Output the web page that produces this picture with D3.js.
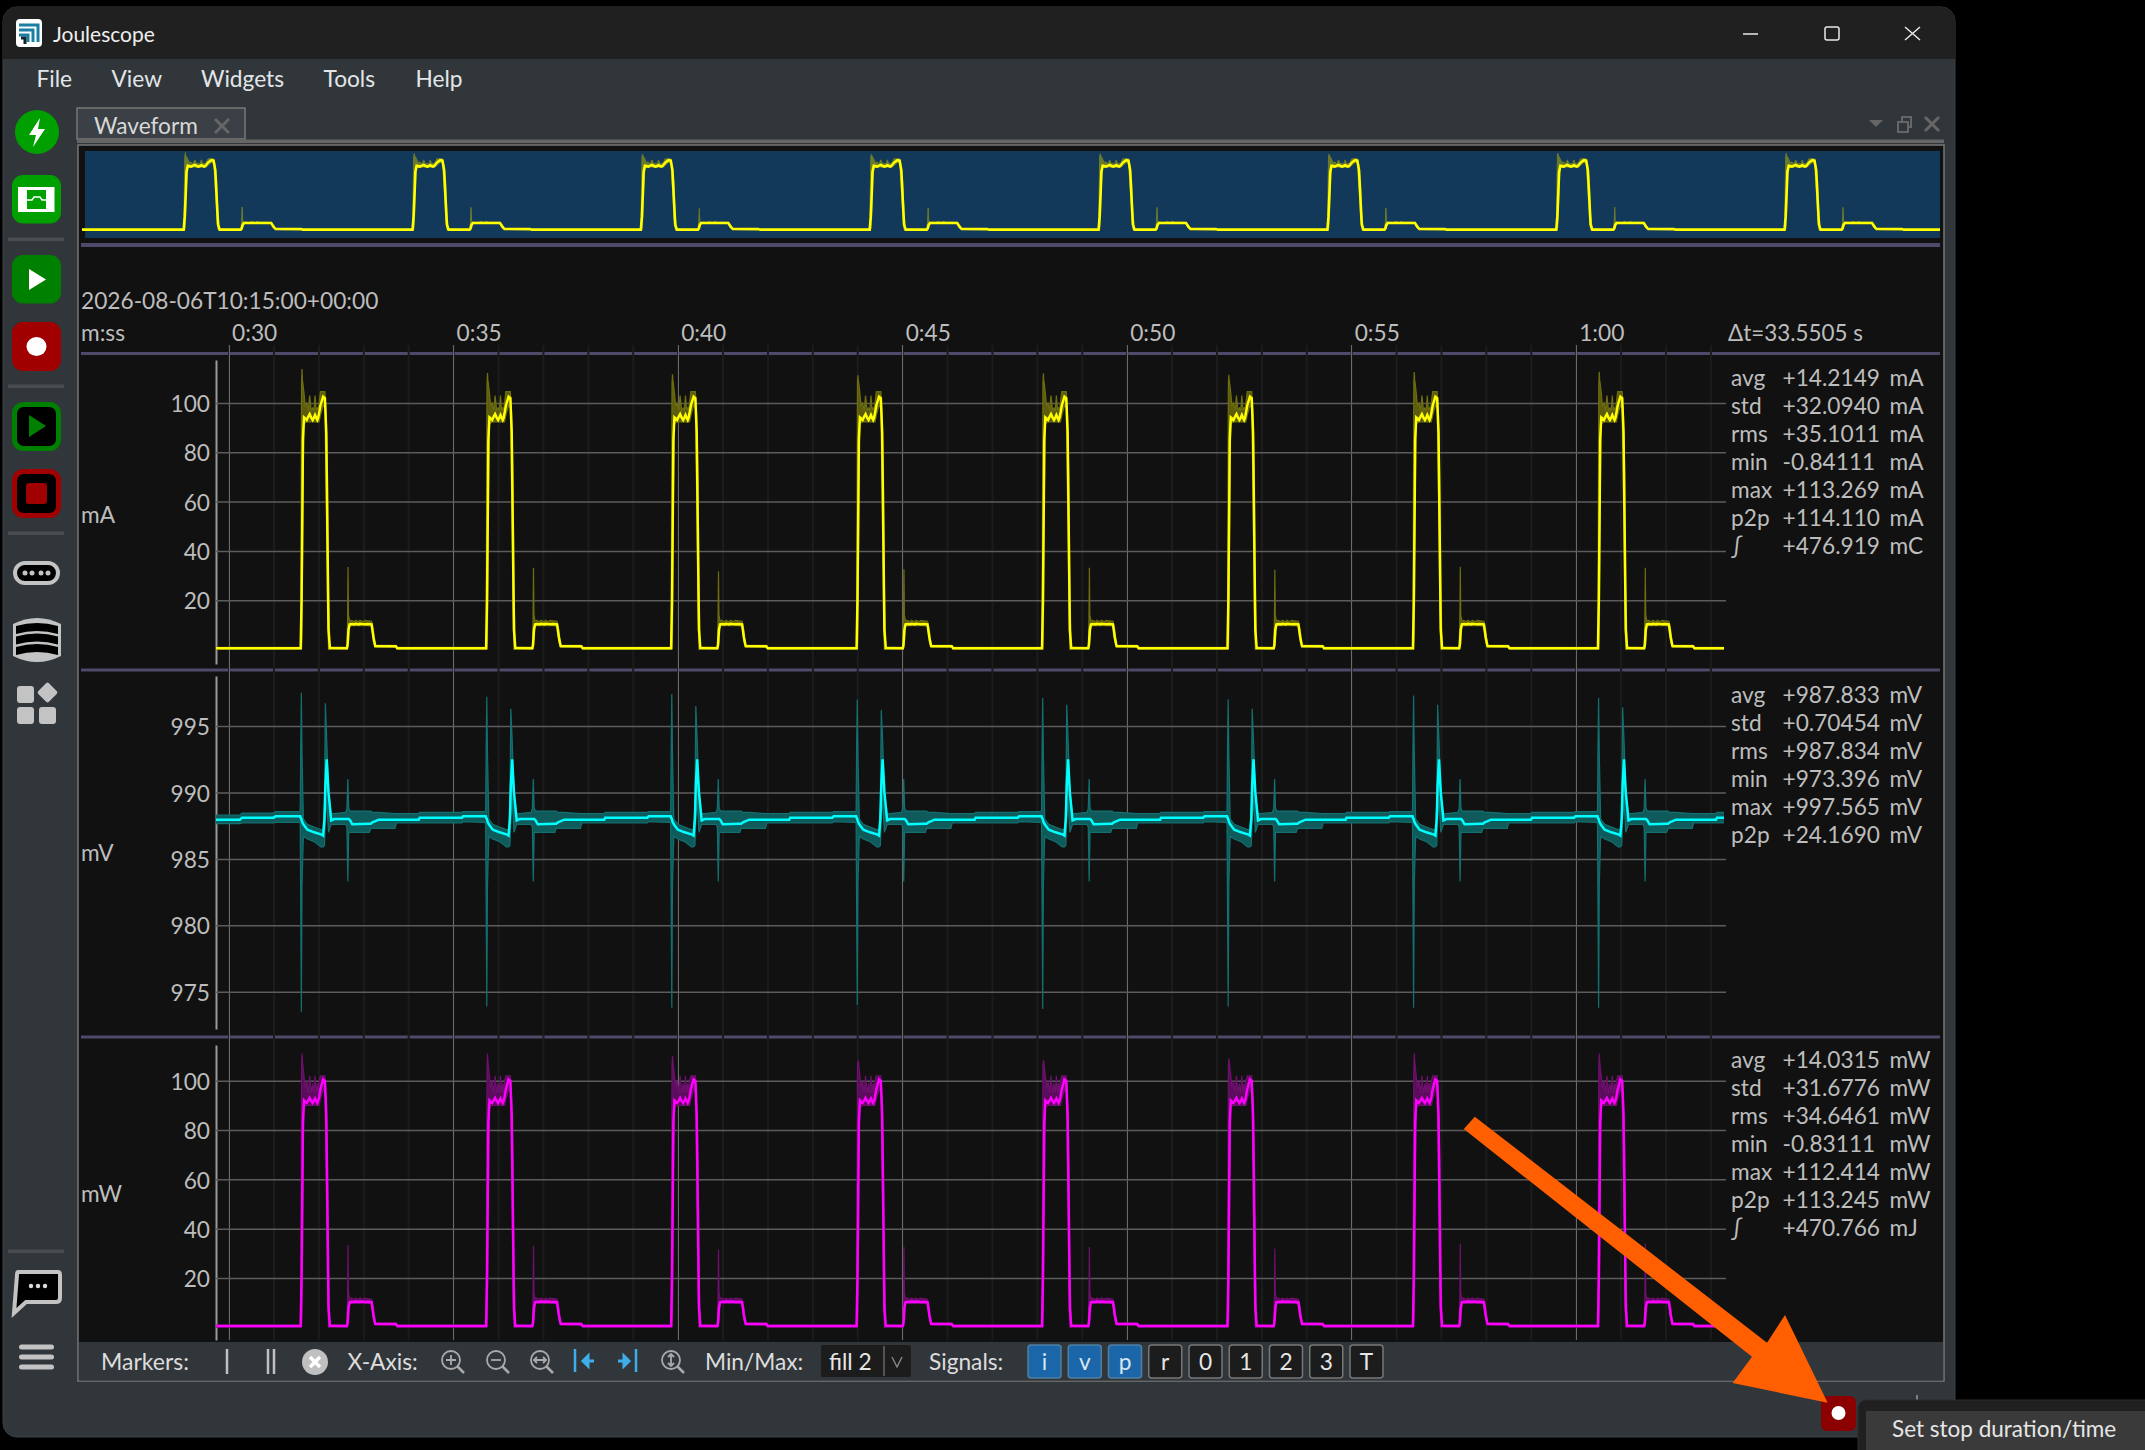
<!DOCTYPE html>
<html><head><meta charset="utf-8">
<script src="https://cdn.jsdelivr.net/npm/d3@7/dist/d3.min.js"></script>
<style>
html,body{margin:0;padding:0;background:#000;}
svg{display:block;}
text{font-family:Lato,"Open Sans",sans-serif;}
</style></head><body>
<svg id="c" width="2145" height="1450" xmlns="http://www.w3.org/2000/svg"></svg>
<script>
// ---- Data ----
const timeTicks=[30,35,40,45,50,55,60];
const timeLabels=["0:30","0:35","0:40","0:45","0:50","0:55","1:00"];
const minorTicks=[30,31,32,33,34,35,36,37,38,39,40,41,42,43,44,45,46,47,48,49,50,51,52,53,54,55,56,57,58,59,60,61,62,63];
const cycleStarts=[31.605,35.735,39.855,43.985,48.115,52.245,56.375,60.495];
const mATicks=[20,40,60,80,100];
const mVTicks=[975,980,985,990,995];
const mWTicks=[20,40,60,80,100];

// current, one period as offset seconds from the rising edge
const iT  =[0,0.02,0.03,0.04,0.05,0.074,0.10,0.134,0.17,0.20,0.235,0.267,0.295,0.32,0.345,0.37,0.39,0.41,0.44,0.50,0.54,0.57,0.60,0.62,0.65,1.03,1.045,1.055,1.065,1.09,1.13,1.20,1.22,1.30,1.32,1.40,1.42,1.50,1.58,1.62,1.66,2.12,2.15,4.12];
const iAvg=[0.5,20,40,60,85,94.2,93.8,93.1,94.5,95.5,94,93.1,94,95.1,94,93.1,94,95.8,99,102.6,102,88,40,8,0.6,0.5,2,5,8,10.2,10.3,10.2,10.4,10.2,10.4,10.3,10.2,10.3,10.2,5,1.4,1.3,0.5,0.5];
const iMin=[0.1,0.2,5,30,60,91.5,92,92.3,92.3,92.3,92.3,92.3,92.3,92.3,92.3,92.3,92.3,92.3,95,99,98,60,15,0,0.1,0.1,0.5,1,3,9.6,9.7,9.7,9.8,9.7,9.8,9.7,9.7,9.7,9.5,3,0.9,0.9,0.1,0.1];
const iMax=[0.9,108,113.8,109,108,104,99,100,97,103,97,98,97,103,97,98,97,100,104.6,104.6,104.6,95,70,25,1.1,0.9,12,33,14,11.6,11.8,11.2,11.9,11.2,11.9,11.2,11.8,11.6,11.4,8,1.8,1.7,0.9,0.9];
const iBigSpike=[113.8,112.2,111.6,111.2,112.0,111.4,112.6,112.7];
const iSmallSpike=[33.5,33.2,31.6,32.6,33.2,32.4,33.6,33.2];

// voltage, one period
const vT  =[-0.05,-0.01,0,0.015,0.03,0.06,0.15,0.30,0.45,0.50,0.53,0.55,0.58,0.62,0.68,0.75,1.00,1.03,1.05,1.07,1.10,1.15,1.53,1.56,1.60,1.74,2.10,2.13,2.63,2.65,3.59,3.62,4.07];
const vAvg=[988.2,988.2,988.1,988.0,987.8,987.6,987.2,987.0,986.85,986.75,988.0,990.5,992.5,990,987.9,988.0,988.0,988.0,988.0,988.0,987.9,987.6,987.65,987.65,987.75,987.95,987.95,987.95,987.95,988.1,988.1,988.2,988.2];
const vMin=[987.75,987.7,982,973.6,983,986.7,986.5,986.3,985.9,985.9,986,988,989.5,987,987.6,987.6,987.6,987.4,983.3,987,987,987,987.0,987.3,987.3,987.3,987.3,987.7,987.7,987.7,987.7,987.8,987.75];
const vMax=[988.55,988.6,993,997.4,993,988.0,987.6,987.4,987.2,987.2,989,996.7,994,990,988.4,988.4,988.5,988.8,991,988.8,988.6,988.6,988.6,988.6,988.5,988.5,988.4,988.4,988.4,988.5,988.5,988.55,988.55];
const vTopSpike=[997.5,997.2,997.4,997.0,997.1,997.0,997.3,997.1];
const vLowSpike=[973.5,973.9,973.8,974.0,973.7,973.9,973.8,973.8];
const vBackSpike=[996.7,996.3,996.5,996.2,996.6,996.3,996.6,996.4];
const vLeadT=[29.72,30.25,30.3,31.0,31.05];
const vLeadAvg=[987.95,987.95,988.1,988.1,988.2];
const vLeadMin=[987.65,987.65,987.7,987.7,987.75];
const vLeadMax=[988.3,988.3,988.45,988.45,988.55];

// power, one period
const pT  =[0,0.02,0.03,0.04,0.05,0.074,0.10,0.134,0.17,0.20,0.235,0.267,0.295,0.32,0.345,0.37,0.39,0.41,0.44,0.50,0.54,0.57,0.60,0.62,0.65,1.03,1.045,1.055,1.065,1.09,1.13,1.20,1.22,1.30,1.32,1.40,1.42,1.50,1.58,1.62,1.66,2.12,2.15,4.12];
const pAvg=[0.5,20,40,60,83,92,91.5,91,92,93,91.8,91,91.8,92.8,91.8,91,91.8,93.4,96.5,100.6,100,86,40,8,0.6,0.5,2,5,8,10.2,10.4,10.3,10.5,10.3,10.5,10.4,10.3,10.4,10.2,5,1.4,1.3,0.5,0.5];
const pMin=[0.1,0.2,5,30,60,89,89.8,90,90,90,90,90,90,90,90,90,90,90,92.5,96.5,95.5,60,15,0,0.1,0.1,0.5,1,3,9.6,9.7,9.7,9.8,9.7,9.8,9.7,9.7,9.7,9.5,3,0.9,0.9,0.1,0.1];
const pMax=[0.9,106,110,108,106,102,97,100,95,102,95,99,95,102,95,99,95,100,102,102,102,93,68,25,1.1,0.9,12,33,14,11.6,11.8,11.3,11.9,11.3,11.9,11.3,11.8,11.6,11.4,8,1.8,1.7,0.9,0.9];
const pBigSpike=[111,111,110,108,108,109,111,111];
const pSmallSpike=[33.4,33.0,31.6,32.6,32.6,32.0,34.0,34.0];

// statistic tables
const statNames=["avg","std","rms","min","max","p2p","\u222B"];
const statMA=["+14.2149","+32.0940","+35.1011","-0.84111","+113.269","+114.110","+476.919"];
const unitMA=["mA","mA","mA","mA","mA","mA","mC"];
const statMV=["+987.833","+0.70454","+987.834","+973.396","+997.565","+24.1690"];
const unitMV=["mV","mV","mV","mV","mV","mV"];
const statMW=["+14.0315","+31.6776","+34.6461","-0.83111","+112.414","+113.245","+470.766"];
const unitMW=["mW","mW","mW","mW","mW","mW","mJ"];
const menuItems=["File","View","Widgets","Tools","Help"];
const signalButtons=["i","v","p","r","0","1","2","3","T"];
const activeSignals=["i","v","p"];

// ---- helpers ----
const svg=d3.select("#c");
const UI="#31363b", PANEL="#111111", SEP="#4d4a6c", TXT="#bdbdbd", FS=22.7;
function expand(T,A,Mi,Ma,over,lead){
  const pts=[];
  if(lead) lead.forEach(p=>pts.push(p));
  cycleStarts.forEach((s,c)=>{
    T.forEach((o,i)=>{
      const p={t:s+o,avg:A[i],min:Mi[i],max:Ma[i]};
      over.forEach(r=>{ if(r.arr===Ma&&r.i===i)p.max=r.v[c]; if(r.arr===Mi&&r.i===i)p.min=r.v[c]; });
      pts.push(p);
    });
  });
  return pts;
}
const leadI=[{t:29.72,avg:0.5,min:0.1,max:0.9}];
const iData=expand(iT,iAvg,iMin,iMax,[{arr:iMax,i:iT.indexOf(0.03),v:iBigSpike},{arr:iMax,i:iT.indexOf(1.055),v:iSmallSpike}],leadI);
const pData=expand(pT,pAvg,pMin,pMax,[{arr:pMax,i:pT.indexOf(0.03),v:pBigSpike},{arr:pMax,i:pT.indexOf(1.055),v:pSmallSpike}],leadI);
const vData=expand(vT,vAvg,vMin,vMax,[
  {arr:vMax,i:vT.indexOf(0.015),v:vTopSpike},{arr:vMin,i:vT.indexOf(0.015),v:vLowSpike},{arr:vMax,i:vT.indexOf(0.55),v:vBackSpike}],
  vLeadT.map((t,i)=>({t:t,avg:vLeadAvg[i],min:vLeadMin[i],max:vLeadMax[i]})));

function rr(g,x,y,w,h,r,fill,stroke,sw){
  return g.append("rect").attr("x",x).attr("y",y).attr("width",w).attr("height",h).attr("rx",r).attr("ry",r)
    .attr("fill",fill).attr("stroke",stroke||"none").attr("stroke-width",sw||0);
}
function tx(g,x,y,s,size,fill,anchor){
  return g.append("text").attr("x",x).attr("y",y).attr("font-size",size).attr("fill",fill).attr("text-anchor",anchor||"start").text(s);
}
function ln(g,x1,y1,x2,y2,stroke,sw,cap){
  return g.append("line").attr("x1",x1).attr("y1",y1).attr("x2",x2).attr("y2",y2).attr("stroke",stroke).attr("stroke-width",sw).attr("stroke-linecap",cap||"butt");
}

// ---- window chrome ----
const win=svg.append("g");
const defs=svg.append("defs");
defs.append("clipPath").attr("id","winClip").append("rect").attr("x",3).attr("y",7).attr("width",1952).attr("height",1430).attr("rx",14);
rr(win,3,7,1952,1430,14,UI,"#3c4044",1);
win.append("rect").attr("clip-path","url(#winClip)").attr("x",3).attr("y",7).attr("width",1952).attr("height",52).attr("fill","#202020");
// logo
rr(win,16,19,26,28,4,"#ffffff");
win.append("path").attr("d","M19 25H38V42M19 30H33V42M19 35H28V42").attr("fill","none").attr("stroke","#1b7fa3").attr("stroke-width",3);
win.append("path").attr("d","M21 38H25V44").attr("fill","none").attr("stroke","#10242e").attr("stroke-width",3);
tx(win,53,42,"Joulescope",21,"#eeeeee");
ln(win,1743,34,1758,34,"#e8e8e8",1.5);
win.append("rect").attr("x",1825).attr("y",27).attr("width",14).attr("height",13).attr("rx",2).attr("fill","none").attr("stroke","#e8e8e8").attr("stroke-width",1.5);
win.append("path").attr("d","M1905 27L1920 40M1920 27L1905 40").attr("stroke","#e8e8e8").attr("stroke-width",1.5);
const menuX=[36.5,111.5,201,323.5,415.5];
menuItems.forEach((m,i)=>tx(win,menuX[i],86.5,m,FS,"#e3e6e8"));

// ---- sidebar ----
const sb=svg.append("g");
sb.append("ellipse").attr("cx",37).attr("cy",132).attr("rx",22).attr("ry",22).attr("fill","#00a000");
sb.append("path").attr("d","M40 118L29 135H36L33 147L45 129H38Z").attr("fill","#fff");
rr(sb,12,175,49,48.5,11,"#00a000");
rr(sb,18,187,36.5,25,0,"#fff");
rr(sb,27,190,19,19,0,"#00a000");
sb.append("path").attr("d","M27 200H32L34 197H40L42 200H46").attr("fill","none").attr("stroke","#fff").attr("stroke-width",1.5);
[239,386,533,1251].forEach(y=>rr(sb,8,y-1.5,56,3.5,0,"#4a4d50"));
rr(sb,12,255,49,48.5,11,"#008000");
sb.append("path").attr("d","M29 269L46 279.5L29 290Z").attr("fill","#fff");
rr(sb,12,322,49,49,11,"#a00000");
sb.append("ellipse").attr("cx",36.5).attr("cy",346.5).attr("rx",10).attr("ry",9.5).attr("fill","#fff");
rr(sb,14.5,404.5,44,44,9,"#000","#008000",5);
sb.append("path").attr("d","M29 415L46 426L29 437Z").attr("fill","#008000");
rr(sb,14.5,471.5,44,44,9,"#000","#a00000",5);
rr(sb,26,483,21,21,3,"#a00000");
rr(sb,15,563,43,20,10,"#000","#c3c3c3",4);
[25,32,41,48].forEach(x=>sb.append("circle").attr("cx",x).attr("cy",573).attr("r",2.5).attr("fill","#c3c3c3"));
// database stack: grey drum crossed by dark crescent bands
sb.append("path").attr("d","M13 624Q37 612 61 624V656Q37 668 13 656Z").attr("fill","#c3c3c3");
[626,636.5,647].forEach(y=>{
  sb.append("path").attr("d",`M16 ${y}Q37 ${y-6} 58 ${y}V${y+8}Q37 ${y+2} 16 ${y+8}Z`).attr("fill","#000");
});
rr(sb,17,686,17,17,3,"#c3c3c3");
rr(sb,39,707,17,17,3,"#c3c3c3");
rr(sb,17,707,17,17,3,"#c3c3c3");
sb.append("rect").attr("x",40).attr("y",685).attr("width",15).attr("height",15).attr("rx",2).attr("fill","#c3c3c3").attr("transform","rotate(45 47.5 692.5)");
sb.append("path").attr("d","M18 1272H58Q60 1272 60 1275V1298Q60 1302 56 1302H26L14 1313L17 1275Q17 1272 18 1272Z").attr("fill","#000").attr("stroke","#c3c3c3").attr("stroke-width",4);
[31,38,45].forEach(x=>sb.append("circle").attr("cx",x).attr("cy",1286).attr("r",2.2).attr("fill","#dcdcdc"));
[1347,1357,1367].forEach(y=>rr(sb,19,y-2.5,35,5,2.5,"#c3c3c3"));

// ---- dock panel ----
const dock=svg.append("g");
rr(dock,77,108,168,31,0,"#3a4045","#777",1.5);
tx(dock,94,134,"Waveform",FS,"#d8d8d8");
dock.append("path").attr("d","M215 119L229 133M229 119L215 133").attr("stroke","#666").attr("stroke-width",3);
rr(dock,77,139.5,1867,3.5,0,"#666");
dock.append("path").attr("d","M1869 120H1883L1876 127Z").attr("fill","#666");
dock.append("path").attr("d","M1898 122V132H1908V122ZM1902 122V117H1911V127H1908").attr("fill","none").attr("stroke","#666").attr("stroke-width",2);
dock.append("path").attr("d","M1925 117L1939 131M1939 117L1925 131").attr("stroke","#666").attr("stroke-width",3);
rr(dock,78,145,1866,1236,0,PANEL,"#777",1.5);
rr(dock,79,1342,1864,38.5,0,UI);

// ---- overview ----
const ovX=d3.scaleLinear().domain([29.77,63.3]).range([82,1940]);
const ovY=d3.scaleLinear().domain([0,116]).range([230,151]);
const ov=svg.append("g");
rr(ov,85,151,1855,87,0,"#12385a");
defs.append("clipPath").attr("id","ovClip").append("rect").attr("x",82).attr("y",145).attr("width",1858).attr("height",95);
const ovG=ov.append("g").attr("clip-path","url(#ovClip)");
ovG.append("path").datum(iData).attr("fill","#6a7a2c").attr("stroke","#6a7a2c").attr("stroke-width",1)
  .attr("d",d3.area().x(d=>ovX(d.t)).y0(d=>ovY(d.min)).y1(d=>ovY(d.max)));
ovG.append("path").datum(iData).attr("fill","none").attr("stroke","#ffff00").attr("stroke-width",2.6)
  .attr("d",d3.line().x(d=>ovX(d.t)).y(d=>ovY(d.avg)));

// separators
[[243,4],[352,3],[668.5,3],[1035.5,3]].forEach(s=>rr(svg,81,s[0],1859,s[1],0,SEP));

// ---- time axis ----
const x=d3.scaleLinear().domain([30,60]).range([228.6,1575.7]);
const axG=svg.append("g");
axG.append("g").attr("transform","translate(0,345)")
  .call(d3.axisBottom(x).tickValues(minorTicks).tickSize(995).tickFormat("").tickSizeOuter(0))
  .call(g=>{g.select(".domain").remove();g.selectAll("line").attr("stroke","#1c1c1c").attr("stroke-width",2);});
axG.append("g").attr("transform","translate(0,345)")
  .call(d3.axisBottom(x).tickValues(timeTicks).tickSize(995).tickFormat("").tickSizeOuter(0))
  .call(g=>{g.select(".domain").remove();g.selectAll("line").attr("stroke","#6a6a6a").attr("stroke-width",1).attr("shape-rendering","crispEdges");});
axG.append("g").attr("transform","translate(0,341)")
  .call(d3.axisTop(x).tickValues(timeTicks).tickSize(0).tickPadding(0).tickFormat((d,i)=>timeLabels[i]))
  .call(g=>{g.select(".domain").remove();g.selectAll("text").attr("font-size",FS).attr("font-family","Lato").attr("fill",TXT).attr("text-anchor","start").attr("dx",3);});
tx(svg,81,309,"2026-08-06T10:15:00+00:00",FS,TXT);
tx(svg,81,341,"m:ss",FS,TXT);
tx(svg,1728,341,"\u0394t=33.5505 s",22.4,TXT);

// ---- signal plots ----
defs.append("clipPath").attr("id","plotClip").append("rect").attr("x",216).attr("y",345).attr("width",1508).attr("height",1000);
function plot(o){
  const y=d3.scaleLinear().domain(o.domain).range(o.range);
  const g=svg.append("g");
  g.append("g").attr("transform","translate(216,0)")
   .call(d3.axisLeft(y).tickValues(o.ticks).tickSize(-1510).tickPadding(6).tickSizeOuter(0).tickFormat(d3.format("d")))
   .call(a=>{
     a.select(".domain").attr("stroke","#9a9a9a").attr("stroke-width",2);
     a.selectAll(".tick line").attr("stroke","#5c5c5c").attr("stroke-width",1.5);
     a.selectAll("text").attr("font-size",FS).attr("font-family","Lato").attr("fill",TXT).attr("dy","0.38em");
   });
  const c=g.append("g").attr("clip-path","url(#plotClip)");
  c.append("path").datum(o.data).attr("fill",o.dim).attr("stroke",o.edge).attr("stroke-width",1.2)
    .attr("d",d3.area().x(d=>x(d.t)).y0(d=>y(d.min)).y1(d=>y(d.max)));
  c.append("path").datum(o.data).attr("fill","none").attr("stroke",o.color).attr("stroke-width",2.5)
    .attr("d",d3.line().x(d=>x(d.t)).y(d=>y(d.avg)));
  tx(g,81,o.unitY,o.unit,FS,TXT);
  o.stats.forEach((s,i)=>{
    const ry=o.statY+i*28;
    tx(g,1731,ry,statNames[i],FS,TXT);
    tx(g,1782.5,ry,s,FS,TXT);
    tx(g,1889.5,ry,o.units[i],FS,TXT);
  });
}
plot({domain:[-5.88,117.44],range:[664,360],ticks:mATicks,data:iData,color:"#ffff00",dim:"#5c5c0c",edge:"#6e6e10",unit:"mA",unitY:523,stats:statMA,units:unitMA,statY:386});
plot({domain:[972.2,998.76],range:[1029,676],ticks:mVTicks,data:vData,color:"#00ffff",dim:"#0f5a5a",edge:"#147070",unit:"mV",unitY:861,stats:statMV,units:unitMV,statY:703});
plot({domain:[-5.15,114.5],range:[1340,1045],ticks:mWTicks,data:pData,color:"#ff00ff",dim:"#5c0c5c",edge:"#6e106e",unit:"mW",unitY:1202,stats:statMW,units:unitMW,statY:1068});

// ---- toolbar ----
const tb=svg.append("g");
const TY=1370, TS=23;
tx(tb,101,TY,"Markers:",TS,"#dddddd");
ln(tb,227,1349,227,1374,"#c0c0c0",2.5);
ln(tb,268,1349,268,1374,"#c0c0c0",2.5); ln(tb,274,1349,274,1374,"#c0c0c0",2.5);
tb.append("circle").attr("cx",315).attr("cy",1362).attr("r",13).attr("fill","#c0c0c0");
tb.append("path").attr("d","M310 1357L320 1367M320 1357L310 1367").attr("stroke","#fff").attr("stroke-width",3.5);
tx(tb,347.5,TY,"X-Axis:",22.7,"#dddddd");
function glass(cx,inner){
  tb.append("circle").attr("cx",cx).attr("cy",1360).attr("r",9).attr("fill","none").attr("stroke","#aaa").attr("stroke-width",1.8);
  ln(tb,cx+6.5,1366.5,cx+13,1373,"#aaa",2.5);
  tb.append("path").attr("d",inner).attr("stroke","#aaa").attr("stroke-width",1.8).attr("fill","none");
}
glass(451,"M446 1360H456M451 1355V1365");
glass(496,"M491 1360H501");
glass(540,"M534 1360H546M537 1357L534 1360L537 1363M543 1357L546 1360L543 1363");
glass(671,"M671 1354V1366M668 1357L671 1354L674 1357M668 1363L671 1366L674 1363");
ln(tb,575,1349,575,1372,"#3daee9",2.5);
tb.append("path").attr("d","M594 1361H583M583 1361L588 1356V1366Z").attr("stroke","#3daee9").attr("stroke-width",3).attr("fill","#3daee9");
ln(tb,636,1349,636,1372,"#3daee9",2.5);
tb.append("path").attr("d","M618 1361H629M629 1361L624 1356V1366Z").attr("stroke","#3daee9").attr("stroke-width",3).attr("fill","#3daee9");
tx(tb,705,TY,"Min/Max:",22.7,"#dddddd");
rr(tb,821,1345,90,32,2,"#1c1c1c");
ln(tb,884,1346,884,1376,"#666",1.5);
tx(tb,829,TY,"fill 2",22.7,"#e6e6e6");
tb.append("path").attr("d","M892 1357L897 1367L902 1357").attr("fill","none").attr("stroke","#888").attr("stroke-width",1.4);
tx(tb,929,TY,"Signals:",22.7,"#dddddd");
const btnX=d3.scalePoint().domain(signalButtons).range([1028,1350]);
signalButtons.forEach(b=>{
  const on=activeSignals.includes(b);
  rr(tb,btnX(b),1345,33,33,3,on?"#1a66a8":"#1c1c1c",on?"#4f7fa3":"#777",1.5);
  tx(tb,btnX(b)+16.5,TY,b,FS,on?"#d9e6f2":"#e6e6e6","middle");
});

// ---- annotation: arrow, record button and tooltip ----
const an=svg.append("g");
ln(an,1917,1395,1917,1402,"#cfcfcf",1);
rr(an,1821,1396,35,35,6,"#8b0000");
an.append("ellipse").attr("cx",1838.5).attr("cy",1413).attr("rx",7).attr("ry",7).attr("fill","#fff");
rr(an,1858,1400,300,60,8,"#202020","#2c2c2c",1);
rr(an,1866,1411,290,50,0,"#3a3a3a");
tx(an,1892,1437,"Set stop duration/time",22.5,"#e6e6e6");
an.append("path").attr("d","M1474.8 1116.7L1767 1342.7L1785 1315L1827.6 1402.7L1732.6 1383L1752 1356.7L1463.8 1129Z").attr("fill","#ff5f00");
</script>
</body></html>
